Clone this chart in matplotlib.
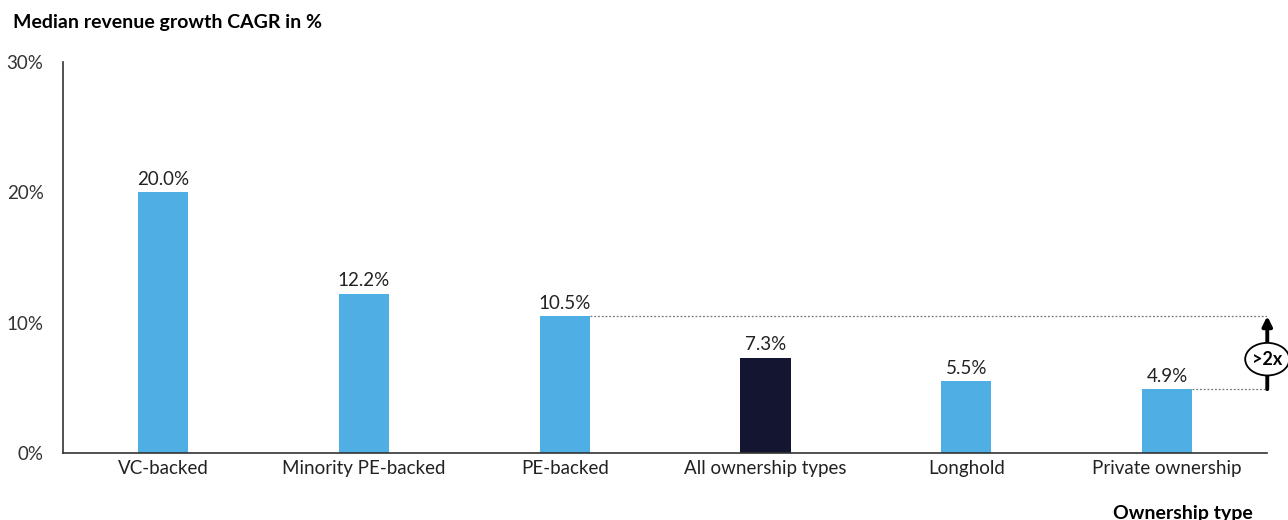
import matplotlib.pyplot as plt
from matplotlib.patches import Ellipse

plt.rcParams['font.family'] = ['Lato', 'DejaVu Sans']

categories = ['VC-backed', 'Minority PE-backed', 'PE-backed',
              'All ownership types', 'Longhold', 'Private ownership']
growth = [20.0, 12.2, 10.5, 7.3, 5.5, 4.9]
colors = ['#4FAFE4', '#4FAFE4', '#4FAFE4', '#141631', '#4FAFE4', '#4FAFE4']
yticks = [0, 10, 20, 30]

fig = plt.figure(figsize=(12.88, 5.2), dpi=100)
ax = fig.add_axes([0.0489, 0.1288, 0.935, 0.752])

x = range(len(categories))
width = 0.25
ax.bar(x, growth, width=width, color=colors)

for i, v in enumerate(growth):
    ax.text(i, v + 0.35, f'{v:.1f}%', ha='center', va='bottom', fontsize=13.5, color='#222222')

ax.set_xlim(-0.5, 5.5)
ax.set_ylim(0, 30)
ax.set_yticks(yticks)
ax.set_yticklabels([f'{t}%' for t in yticks], fontsize=13.5, color='#333333')
ax.set_xticks(list(x))
ax.set_xticklabels(categories, fontsize=13.5, color='#222222')
ax.tick_params(length=0, pad=5)
ax.tick_params(axis='y', pad=14)

for s in ['top', 'right']:
    ax.spines[s].set_visible(False)
for s in ['left', 'bottom']:
    ax.spines[s].set_color('#333333')
    ax.spines[s].set_linewidth(1.2)

# dotted guides from PE-backed and Private ownership to the comparison arrow
x_arrow = 5.5
ax.plot([2 + width / 2, x_arrow], [growth[2], growth[2]], ls=(0, (1.5, 1.5)), color='#777777', lw=0.9)
ax.plot([5 + width / 2, x_arrow], [growth[5], growth[5]], ls=(0, (1.5, 1.5)), color='#777777', lw=0.9)
ax.annotate('', xy=(x_arrow, growth[2]), xytext=(x_arrow, growth[5]),
            arrowprops=dict(arrowstyle='-|>', color='black', lw=2.8, mutation_scale=14,
                            shrinkA=0, shrinkB=0),
            annotation_clip=False)
mid = (growth[2] + growth[5]) / 2 - 0.5
ax.add_patch(Ellipse((x_arrow, mid), 0.22, 2.5, facecolor='white', edgecolor='black',
                     lw=1.3, clip_on=False, zorder=5))
ax.text(x_arrow, mid, '>2x', ha='center', va='center', fontsize=13,
        fontweight='bold', zorder=6, clip_on=False)

fig.text(0.0101, 0.957, 'Median revenue growth CAGR in %', fontsize=14,
         fontweight='bold', va='center', ha='left')
fig.text(0.973, 0.012, 'Ownership type', fontsize=14, fontweight='bold',
         va='center', ha='right')

fig.savefig('out.png', dpi=100)
